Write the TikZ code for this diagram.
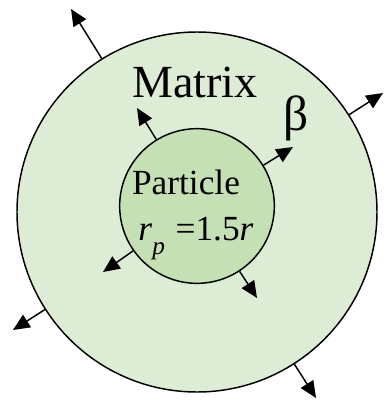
\documentclass[tikz,border=0pt]{standalone}
\usepackage{fontspec}
\setmainfont{Liberation Serif}
\usetikzlibrary{arrows.meta}

\definecolor{matrixgreen}{RGB}{221,237,213}
\definecolor{particlegreen}{RGB}{197,224,180}

\tikzset{
  phase/.style={circle, draw=black, line width=1.1pt, inner sep=0pt},
  flux/.style={line width=1.1pt, -{Triangle[length=12.5pt, width=11pt]}},
}

\begin{document}
\begin{tikzpicture}[x=0.75pt,y=0.75pt,yscale=-1,xscale=1]
\useasboundingbox (0,0) rectangle (385,404);

% Circles
\node [phase, fill=matrixgreen, minimum size=270pt] (matrix) at (197,212) {};
\node [phase, fill=particlegreen, minimum size=116pt] (particle) at (197,206) {};

% Arrow tips, outer boundary
\coordinate (mtl) at (71,9);
\coordinate (mtr) at (383,93);
\coordinate (mbl) at (13,330);
\coordinate (mbr) at (316,398);
% Arrow tips, particle boundary
\coordinate (ptl) at (137,108);
\coordinate (ptr) at (293,147);
\coordinate (pbl) at (103,272);
\coordinate (pbr) at (257,298);

% Straight Lines
\draw [flux] (matrix) -- (mtl);
\draw [flux] (matrix) -- (mtr);
\draw [flux] (matrix) -- (mbl);
\draw [flux] (matrix) -- (mbr);
\draw [flux] (particle) -- (ptl);
\draw [flux] (particle) -- (ptr);
\draw [flux] (particle) -- (pbl);
\draw [flux] (particle) -- (pbr);

% Text Node
\node (matrixlabel) at (195,82) {\fontsize{34.5}{38}\selectfont Matrix};
% Text Node
\node (betalabel) at (296,118) {\fontsize{37}{40}\selectfont β};
% Text Node
\node (particlelabel) at (186,182) {\fontsize{26.5}{30}\selectfont Particle};
% Text Node
\node [anchor=base] (radiuslabel) at (196,240) {\fontsize{26.5}{30}\selectfont \textit{r}\raisebox{-0.42em}{\fontsize{19}{20}\selectfont\textit{p}}\hspace{0.3em}=1.5\textit{r}};

\end{tikzpicture}
\end{document}
